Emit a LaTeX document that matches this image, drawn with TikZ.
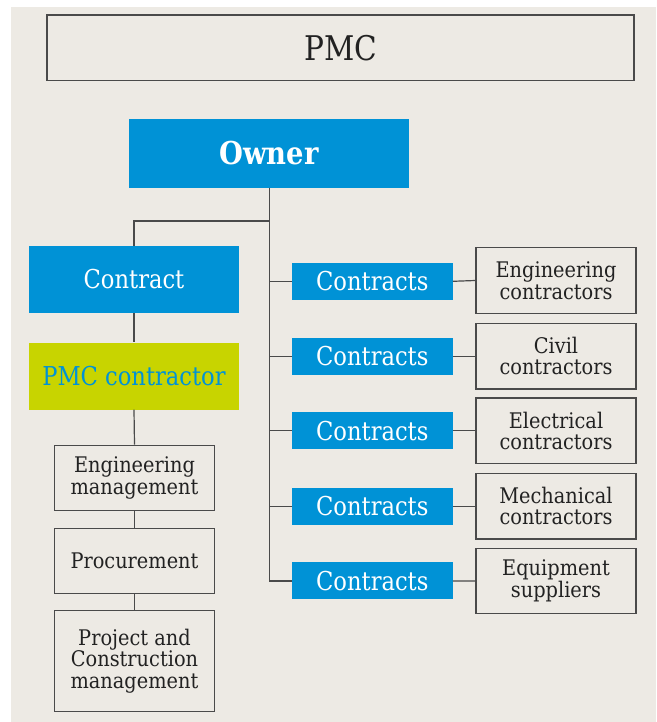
\documentclass[tikz,border=0pt]{standalone}
\usepackage{fontspec}
\setmainfont[FakeStretch=0.87]{DejaVu Serif}
\newfontfamily\blkfont[FakeStretch=0.9]{DejaVu Serif}
\definecolor{bgbeige}{HTML}{EDEAE4}
\definecolor{pmcblue}{HTML}{0092D6}
\definecolor{pmclime}{HTML}{C8D400}
\definecolor{linegray}{HTML}{4A4A4A}
\definecolor{txtblack}{HTML}{222222}
\begin{document}
\begin{tikzpicture}[x=1pt,y=-1pt,
  bluebox/.style={fill=pmcblue,draw=none,inner sep=0pt,text=white,align=center,
    font=\fontsize{26}{28}\selectfont},
  limebox/.style={fill=pmclime,draw=none,inner sep=0pt,text=pmcblue,align=center,
    font=\fontsize{26}{28}\selectfont},
  whitebox/.style={draw=linegray,line width=1.3pt,inner sep=0pt,text=txtblack,align=center,
    font=\blkfont\fontsize{21.5}{21.5}\selectfont},
  conn/.style={draw=linegray,line width=1.2pt}
]
\useasboundingbox (0,0) rectangle (656,722);
\fill[white] (0,0) rectangle (656,722);
\fill[bgbeige] (11,7) rectangle (656,722);

\node[draw=linegray,line width=1.3pt,minimum width=587pt,minimum height=65.5pt,inner sep=0pt,
  text=txtblack,font=\fontsize{34}{36}\selectfont] (pmc) at (340.5,47.8) {PMC};

\node[bluebox,minimum width=280pt,minimum height=68pt,font=\bfseries\fontsize{31.5}{33}\selectfont] (owner) at (269,153.5) {Owner};

\node[bluebox,minimum width=210pt,minimum height=67pt] (contract) at (134,279.3) {Contract};
\node[limebox,minimum width=210pt,minimum height=67pt] (pmcc) at (134,376) {PMC contractor};

\node[whitebox,minimum width=160pt,minimum height=65pt] (em) at (134.5,477.8) {Engineering\\management};
\node[whitebox,minimum width=160pt,minimum height=64.6pt] (proc) at (134.5,561) {Procurement};
\node[whitebox,minimum width=160pt,minimum height=101pt] (proj) at (134.5,661) {Project and\\Construction\\management};

\node[bluebox,minimum width=160.7pt,minimum height=37pt] (c1) at (372.3,281.3) {Contracts};
\node[bluebox,minimum width=160.7pt,minimum height=37pt] (c2) at (372.3,356.2) {Contracts};
\node[bluebox,minimum width=160.7pt,minimum height=37pt] (c3) at (372.3,430.8) {Contracts};
\node[bluebox,minimum width=160.7pt,minimum height=37pt] (c4) at (372.3,506.2) {Contracts};
\node[bluebox,minimum width=160.7pt,minimum height=37pt] (c5) at (372.3,580.9) {Contracts};

\node[whitebox,minimum width=160pt,minimum height=65.5pt] (r1) at (556,280.5) {Engineering\\contractors};
\node[whitebox,minimum width=160pt,minimum height=65.5pt] (r2) at (556,356.2) {Civil\\contractors};
\node[whitebox,minimum width=160pt,minimum height=65.5pt] (r3) at (556,430.8) {Electrical\\contractors};
\node[whitebox,minimum width=160pt,minimum height=65.5pt] (r4) at (556,506.2) {Mechanical\\contractors};
\node[whitebox,minimum width=160pt,minimum height=65.5pt] (r5) at (556,581) {Equipment\\suppliers};

\coordinate (j) at (269.7,221);
\coordinate (ot) at (269.7,187.7);

\draw[conn] (ot) -- (ot |- c5.west) -- (c5.west);
\foreach \i in {1,2,3,4} {\draw[conn] (ot |- c\i.west) -- (c\i.west);}
\foreach \i in {1,2,3,4,5} {\draw[conn] (c\i.east) -- (r\i.west);}
\draw[conn] (contract.north) |- (j);
\draw[conn] (contract.south) -- (pmcc.north);
\draw[conn] (pmcc.south) -- (em.north);
\draw[conn] (em.south) -- (proc.north);
\draw[conn] (proc.south) -- (proj.north);
\end{tikzpicture}
\end{document}
